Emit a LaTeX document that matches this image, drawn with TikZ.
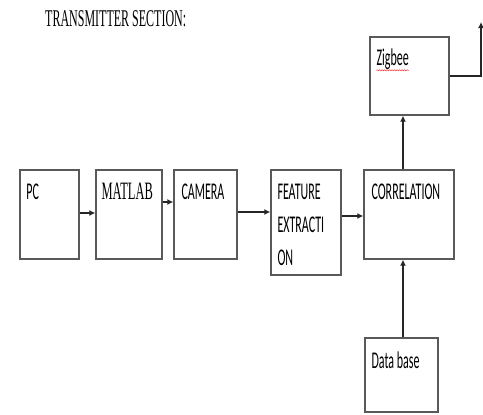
\documentclass[tikz,border=0pt]{standalone}
\usepackage{fontspec}
\setmainfont{Liberation Serif}
\newfontfamily\boxfont{Carlito}
\usetikzlibrary{arrows.meta,decorations.pathmorphing}
\newcommand\tall[1]{\scalebox{1}[2]{#1}}

\begin{document}
\begin{tikzpicture}[x=1pt,y=-1pt,
  blk/.style={draw=black!65, line width=1.4pt, minimum width=#1, inner sep=0pt},
  lbl/.style={anchor=base west, inner sep=0pt, text=black, font=\boxfont\fontsize{12}{33}\selectfont, align=left},
  arr/.style={draw=black!85, line width=1.3pt, -{Latex[length=6pt,width=6pt]}}]

   \useasboundingbox (0,0) rectangle (483,415);

   % title
   \node[anchor=base west, inner sep=0pt, text=black, font=\fontsize{12}{14}\selectfont] (title) at (45,27) {\tall{TRANSMITTER SECTION:}};

   % blocks
   \node[blk=59pt, minimum height=89pt] (pc) at (49.5,214.5) {};
   \node[blk=66pt, minimum height=89pt] (matlab) at (129,214.5) {};
   \node[blk=63pt, minimum height=89pt] (cam) at (205.5,214.5) {};
   \node[blk=70pt, minimum height=105pt] (feat) at (306,222.5) {};
   \node[blk=90pt, minimum height=89pt] (corr) at (409,214.5) {};
   \node[blk=79pt, minimum height=78pt] (zig) at (409.5,76) {};
   \node[blk=73pt, minimum height=74pt] (db) at (401.5,375) {};
   \coordinate (out) at (481,22);

   % labels
   \node[lbl] (pclbl) at ([shift={(7pt,-30pt)}]pc.north west) {\tall{PC}};
   \node[lbl, font=\fontsize{12.5}{14}\selectfont] (matlablbl) at ([shift={(6pt,-30pt)}]matlab.north west) {\tall{MATLAB}};
   \node[lbl] (camlbl) at ([shift={(8pt,-30pt)}]cam.north west) {\tall{CAMERA}};
   \node[lbl] (featlbl) at ([shift={(7pt,-96pt)}]feat.north west) {\tall{FEATURE}\\\tall{EXTRACTI}\\\tall{ON}};
   \node[lbl] (corrlbl) at ([shift={(8pt,-30pt)}]corr.north west) {\tall{CORRELATION}};
   \node[lbl] (ziglbl) at ([shift={(7pt,-29pt)}]zig.north west) {\tall{Zigbee}};
   \node[lbl] (dblbl) at ([shift={(7pt,-31pt)}]db.north west) {\tall{Data base}};
   \draw[red!80, line width=0.5pt, decorate, decoration={snake, amplitude=0.6pt, segment length=2.5pt}]
      ([yshift=-5pt]ziglbl.base west) -- ([yshift=-5pt]ziglbl.base east);

   % connectors
   \draw[arr] ([yshift=1.5pt]pc.east) -- ([yshift=1.5pt]matlab.west);
   \draw[arr] ([yshift=12.5pt]matlab.east) -- ([yshift=12.5pt]cam.west);
   \draw[arr] ([yshift=2.5pt]cam.east) -- ([yshift=2.5pt]cam.east -| feat.west);
   \draw[arr] ([yshift=6.5pt]feat.east) -- ([yshift=6.5pt]feat.east -| corr.west);
   \draw[arr] ([xshift=-6pt]corr.north) -- ([xshift=-6pt]corr.north |- zig.south);
   \draw[arr] ([xshift=1.5pt]db.north) -- ([xshift=1.5pt]db.north |- corr.south);
   \draw[arr] (zig.east) -| (out);
  \end{tikzpicture}
\end{document}
